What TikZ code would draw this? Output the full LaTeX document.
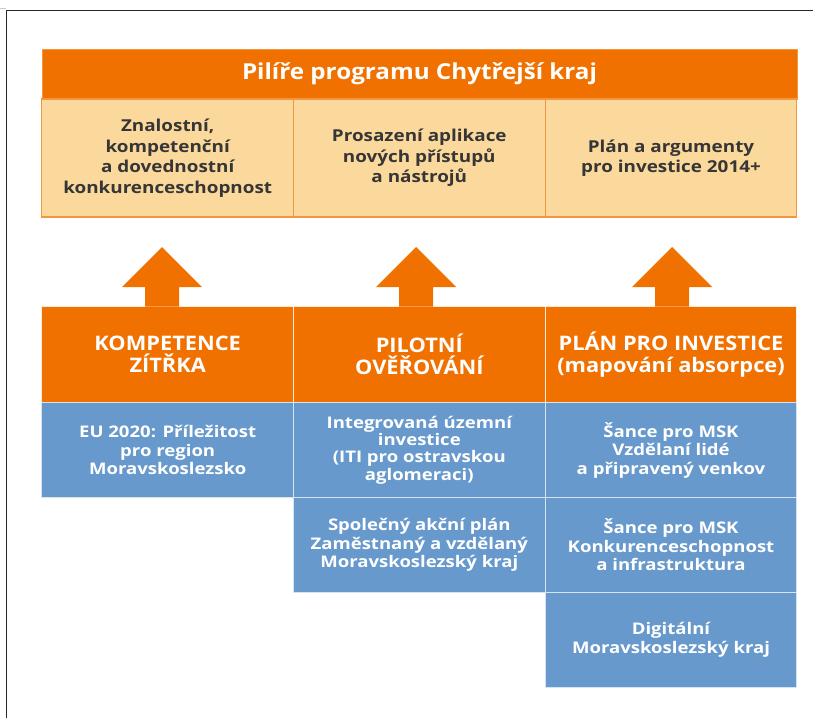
\documentclass[tikz,border=0pt]{standalone}
\usepackage{fontspec}
\setmainfont{Open Sans}
\newfontfamily\titlefont[FakeStretch=1.1]{Open Sans}
\newfontfamily\pillarfont[FakeStretch=1.15]{Open Sans}
\newfontfamily\headfont[FakeStretch=1.09]{Open Sans}
\newfontfamily\itemfont[FakeStretch=1.16]{Open Sans}
\definecolor{or}{HTML}{F07100}
\definecolor{orline}{HTML}{F39640}
\definecolor{pale}{HTML}{FBD89B}
\definecolor{bl}{HTML}{6799CC}
\definecolor{blline}{HTML}{D6E4F2}
\definecolor{dk}{HTML}{363636}
\begin{document}
\begin{tikzpicture}[x=1pt,y=-1pt,
  title/.style={fill=or, draw=orline, line width=1pt, minimum width=755pt, minimum height=50pt, inner sep=0pt, text=white, font=\titlefont\fontsize{22}{26}\selectfont\bfseries},
  pillar/.style={fill=pale, draw=orline, line width=1.2pt, minimum width=251.7pt, minimum height=118pt, inner sep=0pt, text=dk, align=center, font=\pillarfont\fontsize{16.4}{20.5}\selectfont\bfseries},
  head/.style={fill=or, draw=white!85!or, line width=1pt, minimum width=251.7pt, minimum height=97pt, inner sep=0pt, text=white, align=center, font=\headfont\fontsize{20}{22}\selectfont\bfseries},
  item/.style={fill=bl, draw=blline, line width=1pt, minimum width=251.7pt, minimum height=95pt, inner sep=0pt, text=white, align=center, font=\itemfont\fontsize{16}{18.5}\selectfont\bfseries},
  tight/.style={font=\itemfont\fontsize{16}{17.4}\selectfont\bfseries},
  uparrow/.style={fill=or}
]
\useasboundingbox (0,0) rectangle (813,718);
\fill[white] (0,0) rectangle (813,718);
% frame
\draw[black!85, line width=1pt] (6,718) -- (6,10) -- (813,10);
\draw[black!20, line width=0.6pt] (0,8.5) -- (6,8.5);

% title and pillars
\node[title] (t) at (419.5,74) {Pilíře programu Chytřejší kraj};
\node[pillar] (p1) at (167.7,158) {Znalostní,\\kompetenční\\a dovednostní\\konkurenceschopnost};
\node[pillar] (p2) at (419.3,158) {Prosazení aplikace\\nových přístupů\\a nástrojů};
\node[pillar] (p3) at (671,158) {Plán a argumenty\\pro investice 2014+};

% headers
\node[head] (h1) at (167.7,354.5) {KOMPETENCE\\ZÍTŘKA};
\node[head] (h2) at (419.3,354.5) {PILOTNÍ\\OVĚŘOVÁNÍ};
\node[head] (h3) at (671,354.5) {PLÁN PRO INVESTICE\\(mapování absorpce)};

% arrows
\foreach \h/\x in {h1/162, h2/416, h3/672}{
  \fill[uparrow] (\x-17,306.5) -- (\x-17,287) -- (\x-40,287) -- (\x,247) -- (\x+40,287) -- (\x+17,287) -- (\x+17,306.5) -- cycle;
}

% items
\node[item] (i1) at (167.7,450) {EU 2020: Příležitost\\pro region\\Moravskoslezsko};
\node[item, tight] (i2) at (419.3,450) {Integrovaná územní\\investice\\(ITI pro ostravskou\\aglomeraci)};
\node[item] (i3) at (419.3,545) {Společný akční plán\\Zaměstnaný a vzdělaný\\Moravskoslezský kraj};
\node[item] (i4) at (671,450) {Šance pro MSK\\Vzdělaní lidé\\a připravený venkov};
\node[item] (i5) at (671,545) {Šance pro MSK\\Konkurenceschopnost\\a infrastruktura};
\node[item] (i6) at (671,640) {Digitální\\Moravskoslezský kraj};
\end{tikzpicture}
\end{document}
